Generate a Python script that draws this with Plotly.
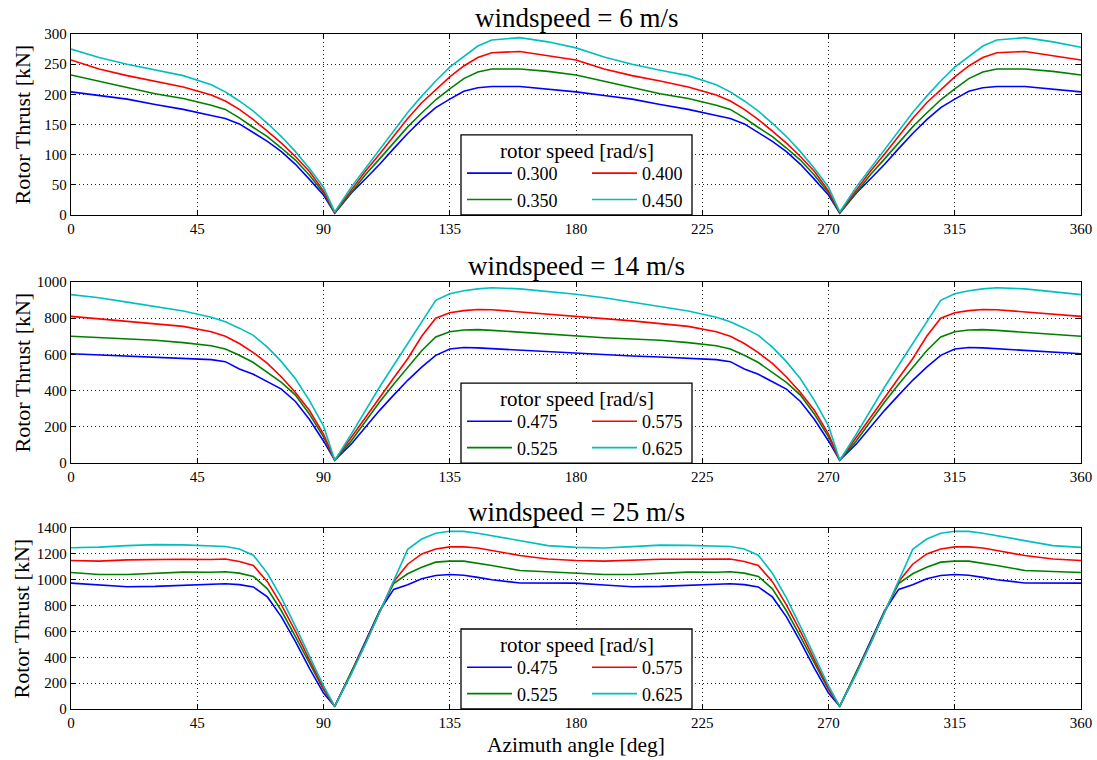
import plotly.graph_objects as go

# ---------------- data ----------------
AZIMUTH = [0, 10, 20, 30, 40, 50, 55, 60, 65, 70, 75, 80, 85, 90, 94,
           100, 105, 110, 115, 120, 125, 130, 135, 140, 145, 150, 160, 170,
           180, 190, 200, 210, 220, 230, 235, 240, 245, 250, 255, 260, 265, 270, 274,
           280, 285, 290, 295, 300, 305, 310, 315, 320, 325, 330, 340, 350, 360]

WINDSPEEDS = [6, 14, 25]
ROTOR_SPEEDS_6 = ["0.300", "0.350", "0.400", "0.450"]
ROTOR_SPEEDS_14 = ["0.475", "0.525", "0.575", "0.625"]
ROTOR_SPEEDS_25 = ["0.475", "0.525", "0.575", "0.625"]
LEGEND_TITLE = "rotor speed [rad/s]"

# windspeed 6 m/s
THRUST_6_A = [204, 198, 192, 183, 175, 165, 160, 151, 137, 122, 105, 84, 59, 33, 3,
              37, 60, 84, 110, 135, 158, 178, 192, 205, 211, 213, 213, 209,
              204, 198, 192, 183, 175, 165, 160, 151, 137, 122, 105, 84, 59, 33, 3,
              37, 60, 84, 110, 135, 158, 178, 192, 205, 211, 213, 213, 209, 204]
THRUST_6_B = [232, 222, 212, 201, 193, 182, 175, 161, 145, 130, 111, 91, 66, 37, 3,
              39, 67, 93, 120, 146, 169, 191, 209, 226, 237, 242, 242, 238,
              232, 222, 212, 201, 193, 182, 175, 161, 145, 130, 111, 91, 66, 37, 3,
              39, 67, 93, 120, 146, 169, 191, 209, 226, 237, 242, 242, 238, 232]
THRUST_6_C = [257, 242, 231, 222, 212, 199, 189, 175, 158, 139, 119, 97, 72, 40, 4,
              42, 73, 101, 131, 160, 186, 208, 229, 247, 261, 269, 271, 264,
              257, 242, 231, 222, 212, 199, 189, 175, 158, 139, 119, 97, 72, 40, 4,
              42, 73, 101, 131, 160, 186, 208, 229, 247, 261, 269, 271, 264, 257]
THRUST_6_D = [275, 261, 250, 240, 231, 216, 204, 189, 172, 152, 130, 105, 77, 46, 5,
              47, 78, 108, 139, 170, 197, 222, 245, 263, 280, 290, 294, 287,
              277, 262, 250, 240, 231, 216, 204, 189, 172, 152, 130, 105, 77, 46, 5,
              47, 78, 108, 139, 170, 197, 222, 245, 263, 280, 290, 294, 287, 278]

# windspeed 14 m/s
THRUST_14_A = [604, 597, 591, 586, 578, 571, 560, 520, 490, 450, 408, 340, 240, 122, 15,
               107, 200, 291, 375, 457, 530, 595, 630, 638, 636, 632, 622, 612,
               604, 597, 591, 586, 578, 571, 560, 520, 490, 450, 408, 340, 240, 122, 15,
               107, 200, 291, 375, 457, 530, 595, 630, 638, 636, 632, 622, 612, 604]
THRUST_14_B = [700, 692, 685, 678, 665, 648, 630, 595, 555, 500, 445, 375, 270, 145, 15,
               125, 230, 337, 435, 530, 620, 696, 725, 735, 737, 733, 722, 710,
               700, 692, 685, 678, 665, 648, 630, 595, 555, 500, 445, 375, 270, 145, 15,
               125, 230, 337, 435, 530, 620, 696, 725, 735, 737, 733, 722, 710, 700]
THRUST_14_C = [810, 797, 785, 770, 755, 725, 700, 660, 610, 550, 475, 390, 290, 160, 16,
               144, 255, 365, 470, 576, 700, 800, 830, 842, 848, 847, 835, 822,
               810, 797, 785, 770, 755, 725, 700, 660, 610, 550, 475, 390, 290, 160, 16,
               144, 255, 365, 470, 576, 700, 800, 830, 842, 848, 847, 835, 822, 810]
THRUST_14_D = [930, 913, 889, 866, 840, 805, 780, 745, 705, 640, 560, 465, 345, 205, 15,
               162, 290, 420, 540, 659, 780, 899, 935, 952, 962, 968, 962, 948,
               932, 913, 889, 866, 840, 805, 780, 745, 705, 640, 560, 465, 345, 205, 15,
               162, 290, 420, 540, 659, 780, 899, 935, 952, 962, 968, 962, 948, 930]

# windspeed 25 m/s
THRUST_25_A = [974, 959, 946, 949, 959, 967, 969, 962, 944, 867, 713, 521, 315, 123, 20,
               290, 520, 760, 925, 962, 1008, 1033, 1041, 1035, 1018, 1000, 975, 972,
               974, 959, 946, 949, 959, 967, 969, 962, 944, 867, 713, 521, 315, 123, 20,
               290, 520, 760, 925, 962, 1008, 1033, 1041, 1035, 1018, 1000, 975, 972, 974]
THRUST_25_B = [1056, 1041, 1040, 1051, 1059, 1058, 1062, 1051, 1026, 930, 760, 560, 355, 150, 20,
               285, 515, 755, 970, 1046, 1097, 1136, 1144, 1144, 1128, 1110, 1072, 1062,
               1056, 1041, 1040, 1051, 1059, 1058, 1062, 1051, 1026, 930, 760, 560, 355, 150, 20,
               285, 515, 755, 970, 1046, 1097, 1136, 1144, 1144, 1128, 1110, 1072, 1062, 1056]
THRUST_25_C = [1149, 1144, 1154, 1159, 1159, 1156, 1160, 1141, 1110, 985, 805, 600, 380, 160, 20,
               280, 510, 750, 985, 1120, 1200, 1238, 1254, 1254, 1246, 1226, 1187, 1160,
               1149, 1144, 1154, 1159, 1159, 1156, 1160, 1141, 1110, 985, 805, 600, 380, 160, 20,
               280, 510, 750, 985, 1120, 1200, 1238, 1254, 1254, 1246, 1226, 1187, 1160, 1149]
THRUST_25_D = [1248, 1252, 1264, 1272, 1270, 1263, 1257, 1238, 1190, 1050, 860, 640, 410, 180, 20,
               275, 505, 745, 995, 1235, 1315, 1359, 1375, 1374, 1360, 1341, 1303, 1264,
               1250, 1246, 1256, 1268, 1266, 1263, 1257, 1238, 1190, 1050, 860, 640, 410, 180, 20,
               275, 505, 745, 995, 1235, 1315, 1359, 1375, 1374, 1360, 1341, 1303, 1264, 1250]

X_TICKS = [0, 45, 90, 135, 180, 225, 270, 315, 360]
Y_RANGES = [[0, 300], [0, 1000], [0, 1400]]
Y_DTICKS = [50, 200, 200]

COLORS = ["#0000ff", "#008000", "#ff0000", "#00bfbf"]

SERIES = [
    [THRUST_6_A, THRUST_6_B, THRUST_6_C, THRUST_6_D],
    [THRUST_14_A, THRUST_14_B, THRUST_14_C, THRUST_14_D],
    [THRUST_25_A, THRUST_25_B, THRUST_25_C, THRUST_25_D],
]
LABELS = [ROTOR_SPEEDS_6, ROTOR_SPEEDS_14, ROTOR_SPEEDS_25]

# ---------------- layout geometry ----------------
W, H = 1097, 760
ML, MR, MT, MB = 71, 16, 34, 51
PW, PH = W - ML - MR, H - MT - MB
DOMAINS = [[0.7319, 1.0], [0.3644, 0.6326], [0.0, 0.2681]]
FONT = "Liberation Serif"

# legend box (pixels relative to plot area / panel bottom)
BOX_X0 = (461 - ML) / PW
BOX_X1 = (692 - ML) / PW
BOX_H = 80 / PH
ITEMS_X = (462 - ML) / PW
ITEMS_TOP = 60 / PH
TITLE_Y = 64 / PH

fig = go.Figure()

for p in range(3):
    xa = "x" if p == 0 else f"x{p + 1}"
    ya = "y" if p == 0 else f"y{p + 1}"
    lg = "legend" if p == 0 else f"legend{p + 1}"
    for i in range(4):
        fig.add_trace(go.Scatter(
            x=AZIMUTH, y=SERIES[p][i], mode="lines",
            line=dict(color=COLORS[i], width=1.6),
            name=LABELS[p][i], xaxis=xa, yaxis=ya, legend=lg,
            legendgroup=f"p{p}g{i // 2}", legendwidth=65 if i < 2 else 45,
            hoverinfo="skip",
        ))

axis_common = dict(
    showline=True, linecolor="black", linewidth=1.3, mirror="ticks",
    ticks="inside", ticklen=5, tickwidth=1, tickcolor="black",
    showgrid=True, gridcolor="#222222", gridwidth=1, griddash="1px,3px",
    zeroline=False, automargin=False,
    tickfont=dict(family=FONT, size=15, color="black"),
)

layout = dict(
    width=W, height=H,
    margin=dict(l=ML, r=MR, t=MT, b=MB),
    paper_bgcolor="white", plot_bgcolor="white",
    font=dict(family=FONT, color="black"),
    showlegend=True,
)

annotations = []
shapes = []
for p in range(3):
    xk = "xaxis" if p == 0 else f"xaxis{p + 1}"
    yk = "yaxis" if p == 0 else f"yaxis{p + 1}"
    lk = "legend" if p == 0 else f"legend{p + 1}"
    ya = "y" if p == 0 else f"y{p + 1}"
    xa = "x" if p == 0 else f"x{p + 1}"
    bottom = DOMAINS[p][0]
    layout[xk] = dict(axis_common, domain=[0, 1], anchor=ya, range=[0, 360],
                      tickmode="array", tickvals=X_TICKS,
                      ticktext=[str(t) for t in X_TICKS])
    layout[yk] = dict(axis_common, domain=DOMAINS[p], anchor=xa,
                      range=Y_RANGES[p], dtick=Y_DTICKS[p], tick0=0)
    layout[lk] = dict(
        x=ITEMS_X, xanchor="left", y=bottom + ITEMS_TOP, yanchor="top",
        xref="paper", yref="paper",
        orientation="h", bgcolor="rgba(0,0,0,0)", borderwidth=0,
        font=dict(family=FONT, size=18, color="black"),
        itemwidth=45, entrywidthmode="pixels",
        tracegroupgap=0,
    )
    shapes.append(dict(
        type="rect", xref="paper", yref="paper",
        x0=BOX_X0, x1=BOX_X1, y0=bottom, y1=bottom + BOX_H,
        line=dict(color="black", width=1.3), fillcolor="white", layer="above",
    ))
    annotations.append(dict(
        text=LEGEND_TITLE, x=(BOX_X0 + BOX_X1) / 2, y=bottom + TITLE_Y,
        xref="paper", yref="paper", xanchor="center", yanchor="middle",
        showarrow=False, font=dict(family=FONT, size=21, color="black"),
    ))
    annotations.append(dict(
        text=f"windspeed = {WINDSPEEDS[p]} m/s", x=0.5, y=DOMAINS[p][1],
        xref="paper", yref="paper", xanchor="center", yanchor="bottom",
        showarrow=False, font=dict(family=FONT, size=27, color="black"), yshift=-1,
    ))
    annotations.append(dict(
        text="Rotor Thrust [kN]", x=-0.0485, y=(DOMAINS[p][0] + DOMAINS[p][1]) / 2,
        xref="paper", yref="paper", xanchor="center", yanchor="middle",
        textangle=-90, showarrow=False,
        font=dict(family=FONT, size=22, color="black"),
    ))

annotations.append(dict(
    text="Azimuth angle [deg]", x=0.5, y=-0.0533, xref="paper", yref="paper",
    xanchor="center", yanchor="middle", showarrow=False,
    font=dict(family=FONT, size=21.5, color="black"),
))
layout["annotations"] = annotations
layout["shapes"] = shapes

fig.update_layout(**layout)
fig.write_html("out.html")
